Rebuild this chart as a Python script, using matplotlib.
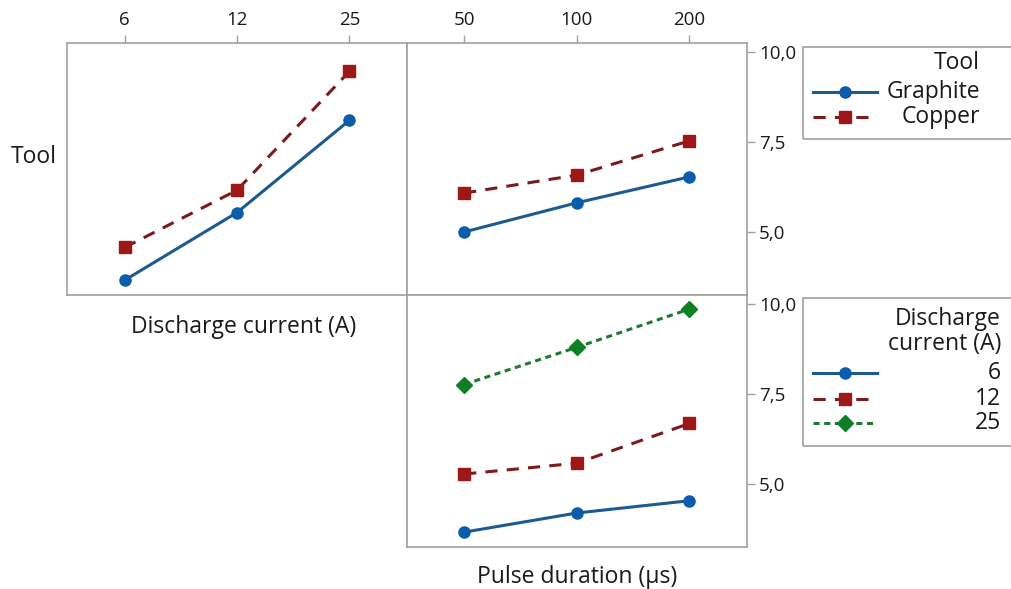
import matplotlib
matplotlib.use("Agg")
import matplotlib.pyplot as plt
from matplotlib.lines import Line2D
from matplotlib.patches import Rectangle

plt.rcParams['font.family'] = ['Open Sans', 'DejaVu Sans']

# ---- data ----
current_levels = ["6", "12", "25"]
pulse_levels = ["50", "100", "200"]
tool_names = ["Graphite", "Copper"]

tool_by_current_graphite = [3.66, 5.54, 8.10]
tool_by_current_copper = [4.57, 6.16, 9.46]

tool_by_pulse_graphite = [5.00, 5.81, 6.53]
tool_by_pulse_copper = [6.08, 6.58, 7.53]

pulse_by_current_6 = [3.67, 4.20, 4.54]
pulse_by_current_12 = [5.28, 5.58, 6.68]
pulse_by_current_25 = [7.76, 8.79, 9.85]

y_ticks = [5.0, 7.5, 10.0]
y_tick_labels = ["5,0", "7,5", "10,0"]

# ---- styles ----
BLUE_L, BLUE_M = "#1d5a8e", "#0b5cab"
RED_L, RED_M = "#7b1c1c", "#9c1717"
GREEN_L, GREEN_M = "#1f7a2e", "#0d7f25"
GRID_C = "#a0a0a0"
styles = [
    dict(color=BLUE_L, ls="-", marker="o", mfc=BLUE_M, mec=BLUE_M, ms=8, lw=2.2),
    dict(color=RED_L, ls=(0, (4, 3)), marker="s", mfc=RED_M, mec=RED_M, ms=8.5, lw=2.2),
    dict(color=GREEN_L, ls=(0, (2, 1.5)), marker="D", mfc=GREEN_M, mec=GREEN_M, ms=8.5, lw=2.2),
]
FS = 16.5
TFS = 13.5

W, H = 1011, 589
fig = plt.figure(figsize=(W / 100, H / 100), dpi=100)

def fx(px):
    return px / W

def fy(py):
    return 1 - py / H

YLIM = (3.25, 10.24)
XLIM = (-0.51, 2.51)

def make_ax(x0, x1, y0, y1):
    ax = fig.add_axes([fx(x0), fy(y1), fx(x1) - fx(x0), fy(y0) - fy(y1)])
    ax.set_xlim(*XLIM)
    ax.set_ylim(*YLIM)
    for s in ax.spines.values():
        s.set_color(GRID_C)
        s.set_linewidth(1.2)
    ax.tick_params(colors=GRID_C, labelcolor="#1a1a1a", labelsize=TFS,
                   length=6, width=1.0)
    return ax

ax_tl = make_ax(67.3, 406.7, 43.3, 295)
ax_tr = make_ax(406.7, 746.7, 43.3, 295)
ax_br = make_ax(406.7, 746.7, 295, 547.3)

# top-left: Tool x Discharge current
xs = list(range(len(current_levels)))
ax_tl.plot(xs, tool_by_current_graphite, **styles[0])
ax_tl.plot(xs, tool_by_current_copper, **styles[1])
ax_tl.set_xticks(xs)
ax_tl.set_xticklabels(current_levels)
ax_tl.xaxis.tick_top()
ax_tl.set_yticks([])

# top-right: Tool x Pulse duration
xs = list(range(len(pulse_levels)))
ax_tr.plot(xs, tool_by_pulse_graphite, **styles[0])
ax_tr.plot(xs, tool_by_pulse_copper, **styles[1])
ax_tr.set_xticks(xs)
ax_tr.set_xticklabels(pulse_levels)
ax_tr.xaxis.tick_top()
ax_tr.yaxis.tick_right()
ax_tr.set_yticks(y_ticks)
ax_tr.set_yticklabels(y_tick_labels)

# bottom-right: Discharge current x Pulse duration
ax_br.plot(xs, pulse_by_current_6, **styles[0])
ax_br.plot(xs, pulse_by_current_12, **styles[1])
ax_br.plot(xs, pulse_by_current_25, **styles[2])
ax_br.set_xticks([])
ax_br.yaxis.tick_right()
ax_br.set_yticks(y_ticks)
ax_br.set_yticklabels(y_tick_labels)

for ax in (ax_tr, ax_br):
    ax.tick_params(axis="y", pad=3)
for ax in (ax_tl, ax_tr):
    ax.tick_params(axis="x", pad=4)

# labels
TXT = "#1a1a1a"
fig.text(fx(34), fy(157), "Tool", ha="center", va="center", fontsize=FS, color=TXT)
fig.text(fx(243.5), fy(327), "Discharge current (A)", ha="center", va="center",
         fontsize=FS, color=TXT)
fig.text(fx(576.7), fy(577), "Pulse duration (µs)", ha="center", va="center",
         fontsize=FS, color=TXT)

# legends (drawn manually, right-aligned text as in reference)
def legend_box(y0, y1):
    fig.add_artist(Rectangle((fx(803.3), fy(y1)), fx(W + 5) - fx(803.3), fy(y0) - fy(y1),
                             transform=fig.transFigure, fill=False,
                             edgecolor=GRID_C, lw=1.2, clip_on=False))

def legend_entry(y, st, label, xr):
    fig.add_artist(Line2D([fx(812.7), fx(876.7)], [fy(y), fy(y)],
                          transform=fig.transFigure, color=st["color"], ls=st["ls"],
                          lw=st["lw"]))
    fig.add_artist(Line2D([fx(844.7)], [fy(y)], transform=fig.transFigure,
                          marker=st["marker"], mfc=st["mfc"], mec=st["mec"],
                          ms=st["ms"], ls="none"))
    fig.text(fx(xr), fy(y), label, ha="right", va="center", fontsize=FS, color=TXT)

legend_box(47.3, 139)
fig.text(fx(980), fy(63.3), "Tool", ha="right", va="center", fontsize=FS, color=TXT)
legend_entry(92, styles[0], tool_names[0], 980)
legend_entry(117, styles[1], tool_names[1], 980)

legend_box(298.3, 445.7)
fig.text(fx(1001), fy(319), "Discharge", ha="right", va="center", fontsize=FS, color=TXT)
fig.text(fx(1001), fy(344), "current (A)", ha="right", va="center", fontsize=FS, color=TXT)
legend_entry(373, styles[0], current_levels[0], 1001)
legend_entry(399, styles[1], current_levels[1], 1001)
legend_entry(423, styles[2], current_levels[2], 1001)

fig.savefig("out.png", dpi=100)
